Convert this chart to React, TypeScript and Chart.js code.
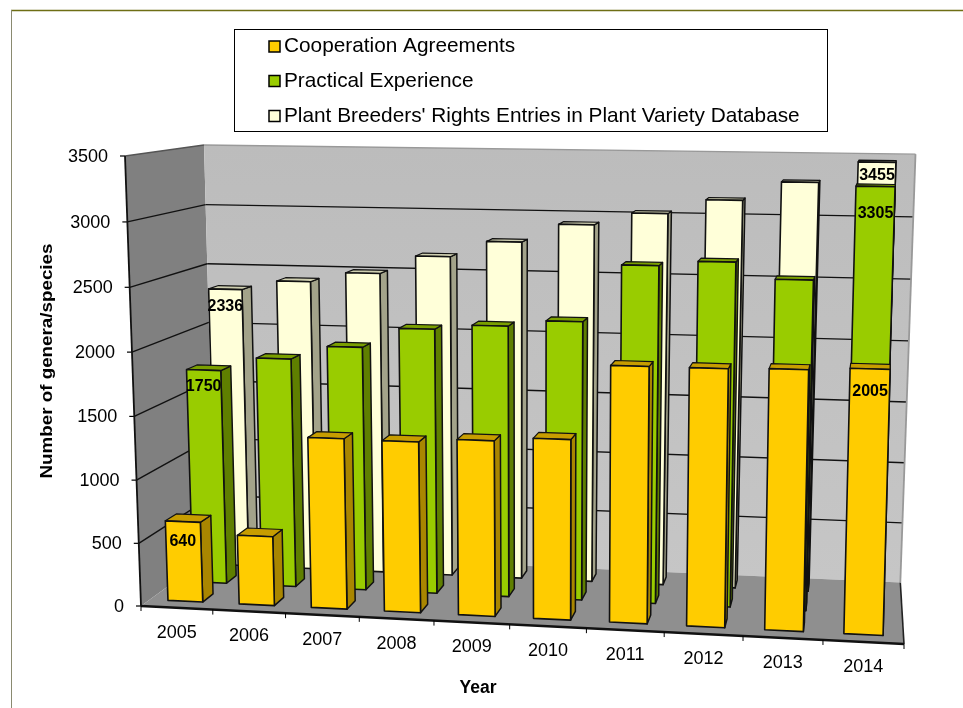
import React, { useEffect, useRef } from "react";
import { Chart, registerables } from "chart.js";

Chart.register(...registerables);

const years = ["2005", "2006", "2007", "2008", "2009", "2010", "2011", "2012", "2013", "2014"];
const cooperation = [640, 550, 1345, 1340, 1370, 1400, 1975, 1975, 1985, 2005];
const practical = [1750, 1860, 1970, 2130, 2170, 2220, 2670, 2710, 2585, 3305];
const breeders = [2336, 2415, 2495, 2645, 2775, 2925, 3025, 3140, 3290, 3455];
const yTicksMax = 3500;
const yTickStep = 500;
const labelledPoints = [0, 9];

const FONT = '"Liberation Sans", Arial, sans-serif';

type P = [number, number];

// Floor and ceiling of the 3D box, as (category, depth) -> screen projections.
const F00: P = [141, 606];
const F10: P = [904, 644];
const F01: P = [215, 552];
const T00: P = [125, 156];
const T10: P = [917, 167];
const T01: P = [204, 145];
const persA = -0.065;
const persC = 0.113;

function plane(p00: P, p10: P, p01: P, u: number, d: number): P {
  const w = 1 + persA * u + persC * d;
  const f = (i: number) =>
    (p00[i] + (p10[i] * (1 + persA) - p00[i]) * u + (p01[i] * (1 + persC) - p00[i]) * d) / w;
  return [f(0), f(1)];
}

function project(u: number, v: number, d: number): P {
  const k = 1.03;
  const vv = v / (v + (1 - v) * k);
  const a = plane(F00, F10, F01, u, d);
  const b = plane(T00, T10, T01, u, d);
  return [a[0] + (b[0] - a[0]) * vv, a[1] + (b[1] - a[1]) * vv];
}

function poly(ctx: CanvasRenderingContext2D, pts: P[], fill: any, stroke: string | null, lw = 1) {
  ctx.beginPath();
  pts.forEach((p, i) => (i ? ctx.lineTo(p[0], p[1]) : ctx.moveTo(p[0], p[1])));
  ctx.closePath();
  if (fill) {
    ctx.fillStyle = fill;
    ctx.fill();
  }
  if (stroke) {
    ctx.strokeStyle = stroke;
    ctx.lineWidth = lw;
    ctx.lineJoin = "round";
    ctx.stroke();
  }
}

function line(ctx: CanvasRenderingContext2D, a: P, b: P, color: string, lw = 1) {
  ctx.beginPath();
  ctx.moveTo(a[0], a[1]);
  ctx.lineTo(b[0], b[1]);
  ctx.strokeStyle = color;
  ctx.lineWidth = lw;
  ctx.stroke();
}

const BAR_DEPTH = 0.14;
const depthOf = [0.11, 0.44, 0.77];
const sideColors = ["#A98600", "#5F7F00", "#A3A38A"];
const topColors = ["#C79D00", "#7A9F00", "#CFCFB0"];
const labelDrop: Record<string, number> = { "0:0": 20, "0:9": 23, "1:0": 17, "1:9": 27, "2:0": 17, "2:9": 13 };

const box3d = {
  id: "box3d",
  beforeDraw(chart: any) {
    const ctx = chart.ctx;
    ctx.save();
    line(ctx, [11, 10.5], [963, 10.5], "#6E6E14", 1.5);
    line(ctx, [11.5, 10], [11.5, 708], "#8A8A70", 1);
    ctx.restore();
  },
  beforeDatasetsDraw(chart: any) {
    const ctx = chart.ctx;
    const yScale = chart.scales.y;
    const xScale = chart.scales.x;
    const area = chart.chartArea;
    const vOf = (val: number) => (area.bottom - yScale.getPixelForValue(val)) / (area.bottom - area.top);
    ctx.save();
    // walls and floor
    poly(ctx, [project(0, 0, 0), project(0, 0, 1), project(0, 1, 1), project(0, 1, 0)], "#808080", null);
    const grad = ctx.createLinearGradient(0, 145, 0, 580);
    grad.addColorStop(0, "#BCBCBC");
    grad.addColorStop(1, "#C6C6C6");
    poly(ctx, [project(0, 0, 1), project(1, 0, 1), project(1, 1, 1), project(0, 1, 1)], grad, null);
    poly(ctx, [project(0, 0, 0), project(1, 0, 0), project(1, 0, 1), project(0, 0, 1)], "#8F8F8F", null);
    // grid lines and y labels
    ctx.font = `18px ${FONT}`;
    ctx.fillStyle = "#000";
    ctx.textAlign = "right";
    ctx.textBaseline = "middle";
    yScale.ticks.forEach((t: any) => {
      const v = vOf(t.value);
      const f = project(0, v, 0);
      if (t.value > 0) {
        line(ctx, f, project(0, v, 1), t.value === yTicksMax ? "#555" : "#111", 1.4);
        line(ctx, project(0, v, 1), project(1, v, 1), t.value === yTicksMax ? "#999" : "#111", 1.4);
      }
      line(ctx, [f[0] - 5, f[1]], f, "#000", 1.2);
      ctx.fillStyle = "#000";
      ctx.fillText(String(t.value), f[0] - 17, f[1] + 1);
    });
    // box edges
    line(ctx, project(0, 0, 0), project(0, 1, 0), "#111", 1.8);
    line(ctx, project(1, 0, 0), project(1, 0, 1), "#222", 1.6);
    line(ctx, project(1, 0, 1), project(1, 1, 1), "#999", 1.8);
    line(ctx, project(0, 0, 0), project(1, 0, 0), "#111", 2.4);
    // x ticks and labels
    const n = xScale.ticks.length;
    ctx.textAlign = "center";
    for (let i = 0; i <= n; i++) {
      const p = project(i / n, 0, 0);
      line(ctx, p, [p[0], p[1] + 5], "#000", 1);
    }
    xScale.ticks.forEach((t: any, i: number) => {
      const u = (xScale.getPixelForTick(i) - area.left) / (area.right - area.left);
      const p = project(u, 0, 0);
      ctx.fillStyle = "#000";
      ctx.fillText(String(t.label), p[0], p[1] + 25);
    });
    // axis titles
    ctx.font = `bold 17.5px ${FONT}`;
    ctx.fillText(xScale.options.title.text, 478, 688);
    ctx.translate(47, 361);
    ctx.rotate(-Math.PI / 2);
    ctx.scale(1.105, 1);
    ctx.font = `bold 17px ${FONT}`;
    ctx.fillText(yScale.options.title.text, 0, 0);
    ctx.restore();
  },
  beforeDatasetDraw(chart: any, args: any) {
    const ctx = chart.ctx;
    const area = chart.chartArea;
    const i = args.index;
    const ds = chart.data.datasets[i];
    const W = area.right - area.left;
    const H = area.bottom - area.top;
    const d0 = depthOf[i];
    const d1 = d0 + BAR_DEPTH;
    ctx.save();
    args.meta.data.forEach((el: any) => {
      const uL = (el.x - el.width / 2 - area.left) / W;
      const uR = (el.x + el.width / 2 - area.left) / W;
      const v = (area.bottom - el.y) / H;
      poly(ctx, [project(uR, 0, d0), project(uR, 0, d1), project(uR, v, d1), project(uR, v, d0)], sideColors[i], "#111", 1.5);
      poly(ctx, [project(uL, v, d0), project(uR, v, d0), project(uR, v, d1), project(uL, v, d1)], topColors[i], "#111", 1.2);
      poly(ctx, [project(uL, 0, d0), project(uR, 0, d0), project(uR, v, d0), project(uL, v, d0)], ds.backgroundColor, "#111", 1.6);
    });
    ctx.restore();
    return false;
  },
  afterDatasetsDraw(chart: any) {
    const ctx = chart.ctx;
    const area = chart.chartArea;
    const W = area.right - area.left;
    const H = area.bottom - area.top;
    ctx.save();
    // value labels
    ctx.font = `bold 16px ${FONT}`;
    ctx.fillStyle = "#000";
    ctx.textAlign = "center";
    ctx.textBaseline = "middle";
    chart.data.datasets.forEach((ds: any, i: number) => {
      const els = chart.getDatasetMeta(i).data;
      labelledPoints.forEach((k) => {
        const el = els[k];
        const p = project((el.x - area.left) / W, (area.bottom - el.y) / H, depthOf[i]);
        ctx.fillStyle = "#000";
        ctx.fillText(String(ds.data[k]), p[0], p[1] + labelDrop[`${i}:${k}`]);
      });
    });
    // legend
    const lx = 234.5, ly = 29.5, lw = 593, lh = 102;
    ctx.fillStyle = "#fff";
    ctx.fillRect(lx, ly, lw, lh);
    ctx.strokeStyle = "#000";
    ctx.lineWidth = 1;
    ctx.strokeRect(lx, ly, lw, lh);
    const rows = [46.5, 81, 116];
    ctx.textAlign = "left";
    ctx.font = `20.8px ${FONT}`;
    chart.data.datasets.forEach((ds: any, i: number) => {
      ctx.fillStyle = ds.backgroundColor;
      ctx.fillRect(269, rows[i] - 5.5, 11, 11);
      ctx.strokeStyle = "#000";
      ctx.lineWidth = 1.5;
      ctx.strokeRect(269, rows[i] - 5.5, 11, 11);
      ctx.fillStyle = "#000";
      ctx.fillText(ds.label, 284, rows[i]);
    });
    ctx.restore();
  },
};

export default function App() {
  const ref = useRef<HTMLCanvasElement | null>(null);
  useEffect(() => {
    const chart = new Chart(ref.current as HTMLCanvasElement, {
      type: "bar",
      data: {
        labels: years,
        datasets: [
          { label: "Cooperation Agreements", data: cooperation, backgroundColor: "#FFCC00" },
          { label: "Practical Experience", data: practical, backgroundColor: "#99CC00" },
          { label: "Plant Breeders' Rights Entries in Plant Variety Database", data: breeders, backgroundColor: "#FFFFD9" },
        ],
      },
      options: {
        responsive: false,
        animation: false,
        layout: { padding: { left: 125, right: 59, top: 156, bottom: 102 } },
        datasets: { bar: { grouped: false, barPercentage: 0.49, categoryPercentage: 1 } },
        plugins: { legend: { display: false }, tooltip: { enabled: false }, title: { display: false } },
        scales: {
          x: {
            grid: { display: false },
            border: { display: false },
            ticks: { display: false },
            title: { display: false, text: "Year" },
          },
          y: {
            min: 0,
            max: yTicksMax,
            grid: { display: false },
            border: { display: false },
            ticks: { display: false, stepSize: yTickStep },
            title: { display: false, text: "Number of genera/species" },
          },
        },
      } as any,
      plugins: [box3d as any],
    });
    return () => chart.destroy();
  }, []);
  return (
    <div style={{ position: "absolute", left: 0, top: 0, width: 963, height: 708, background: "#fff" }}>
      <canvas ref={ref} width={963} height={708} style={{ display: "block", filter: "blur(0.35px)" }} />
    </div>
  );
}
